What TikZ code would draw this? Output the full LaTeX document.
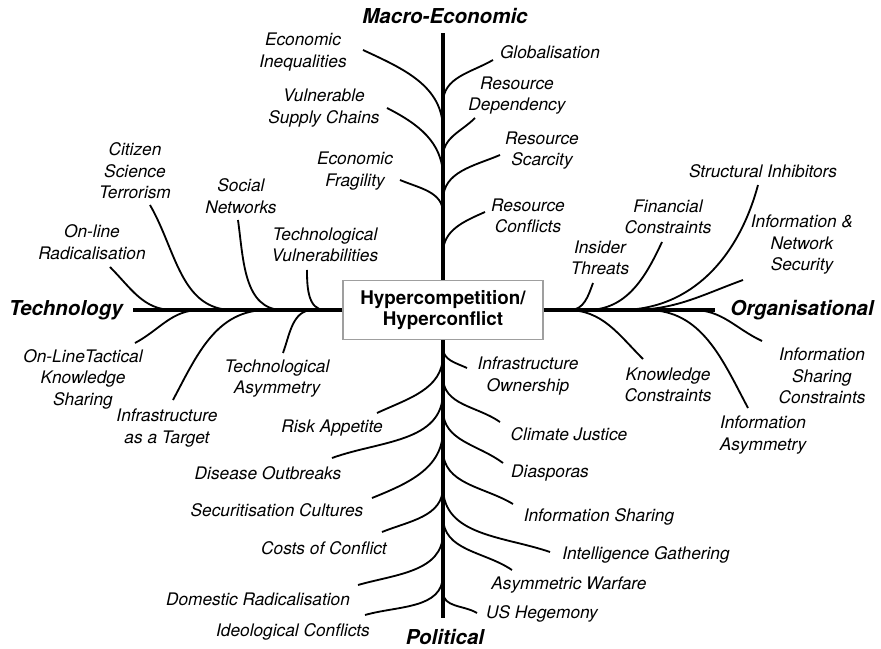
\documentclass[tikz,border=0pt]{standalone}
\usepackage{fontspec}
\setmainfont{TeX Gyre Heros}
\usepackage{tikz}
\tikzset{
  hub/.style={rectangle, draw=gray!75, fill=white, line width=0.9pt, minimum width=5cm, minimum height=1.475cm, align=center, font=\fontsize{13.4}{15.4}\selectfont\bfseries},
  cat/.style={font=\fontsize{14.6}{17}\selectfont\bfseries\itshape, inner sep=0pt},
  lbl/.style={font=\fontsize{12.3}{15.3}\selectfont\itshape, align=center, inner sep=0pt},
  spine/.style={draw=black, line width=3.2pt},
  twig/.style={draw=black, line width=1.3pt}
}

\begin{document}
\begin{tikzpicture}
  \useasboundingbox (-11.075,-8.475) rectangle (10.95,7.75);
  \node[hub] (hc) at (0,0) {Hypercompetition/\\Hyperconflict};
  \coordinate (mt) at (0,6.925); \coordinate (mb) at (0,-7.7);
  \coordinate (ml) at (-7.75,0); \coordinate (mr) at (6.8,0);
  \draw[spine] (hc.north)--(mt); \draw[spine] (hc.south)--(mb);
  \draw[spine] (hc.west)--(ml); \draw[spine] (hc.east)--(mr);
  \node[cat] (mac) at (0.05,7.35) {Macro-Economic};
  \node[cat] (pol) at (0.05,-8.175) {Political};
  \node[cat, anchor=east] (tec) at (-8.0,0) {Technology};
  \node[cat, anchor=west] (org) at (7.175,0) {Organisational};

  % macro-economic
  \node[lbl] (ineq) at (-3.5,6.45) {Economic\\Inequalities};
  \node[lbl] (supp) at (-2.975,5.05) {Vulnerable\\Supply Chains};
  \node[lbl] (frag) at (-2.2,3.475) {Economic\\Fragility};
  \node[lbl] (glob) at (2.675,6.45) {Globalisation};
  \node[lbl] (rdep) at (1.85,5.36) {Resource\\Dependency};
  \node[lbl] (rsca) at (2.475,3.99) {Resource\\Scarcity};
  \node[lbl] (rcon) at (2.125,2.35) {Resource\\Conflicts};
  \coordinate (ineq0) at (0,4.5); \coordinate (ineq1) at (-2.0,6.5);
  \coordinate (supp0) at (0,3.325); \coordinate (supp1) at (-1.4,5.05);
  \coordinate (frag0) at (0,2.425); \coordinate (frag1) at (-1.075,3.25);
  \coordinate (glob0) at (0,5.175); \coordinate (glob1) at (1.25,6.25);
  \coordinate (rdep0) at (0,3.825); \coordinate (rdep1) at (0.8,4.8);
  \coordinate (rsca0) at (0,2.75); \coordinate (rsca1) at (1.425,3.875);
  \coordinate (rcon0) at (0,1.425); \coordinate (rcon1) at (1.05,2.45);
  \draw[twig] (ineq0) to[out=90,in=-25] (ineq1);
  \draw[twig] (supp0) to[out=90,in=-27] (supp1);
  \draw[twig] (frag0) to[out=90,in=-23] (frag1);
  \draw[twig] (glob0) to[out=90,in=210] (glob1);
  \draw[twig] (rdep0) to[out=90,in=225] (rdep1);
  \draw[twig] (rsca0) to[out=90,in=203] (rsca1);
  \draw[twig] (rcon0) to[out=90,in=204] (rcon1);

  % technology
  \node[lbl] (orad) at (-8.775,1.7) {On-line\\Radicalisation};
  \node[lbl] (citz) at (-7.7,3.475) {Citizen\\Science\\Terrorism};
  \node[lbl] (socn) at (-5.05,2.85) {Social\\Networks};
  \node[lbl] (tvul) at (-2.95,1.625) {Technological\\Vulnerabilities};
  \node[lbl] (tact) at (-9.0,-1.725) {On-LineTactical\\Knowledge\\Sharing};
  \node[lbl] (itgt) at (-6.9,-2.95) {Infrastructure\\as a Target};
  \node[lbl] (tasy) at (-4.15,-1.72) {Technological\\Asymmetry};
  \coordinate (orad0) at (-6.75,0); \coordinate (orad1) at (-8.325,1.075);
  \coordinate (citz0) at (-5.25,0); \coordinate (citz1) at (-7.325,2.625);
  \coordinate (socn0) at (-4.0,0); \coordinate (socn1) at (-5.125,2.25);
  \coordinate (tvul0) at (-2.95,0); \coordinate (tvul1) at (-3.4,1.0);
  \coordinate (tact0) at (-6.075,0); \coordinate (tact1) at (-7.7,-0.825);
  \coordinate (itgt0) at (-4.4,0); \coordinate (itgt1) at (-6.75,-2.25);
  \coordinate (tasy0) at (-3.25,0); \coordinate (tasy1) at (-4.0,-1.075);
  \draw[twig] (orad0) to[out=180,in=-45] (orad1);
  \draw[twig] (citz0) to[out=180,in=-60] (citz1);
  \draw[twig] (socn0) to[out=180,in=-82] (socn1);
  \draw[twig] (tvul0) to[out=180,in=-90] (tvul1);
  \draw[twig] (tact0) to[out=180,in=28] (tact1);
  \draw[twig] (itgt0) to[out=180,in=62] (itgt1);
  \draw[twig] (tasy0) to[out=180,in=70] (tasy1);

  % organisational
  \node[lbl] (insd) at (3.925,1.3) {Insider\\Threats};
  \node[lbl] (finc) at (5.625,2.325) {Financial\\Constraints};
  \node[lbl] (stru) at (8.0,3.475) {Structural Inhibitors};
  \node[lbl] (inet) at (8.975,1.625) {Information \&\\Network\\Security};
  \node[lbl] (know) at (5.625,-1.875) {Knowledge\\Constraints};
  \node[lbl] (iasy) at (8.0,-3.125) {Information\\Asymmetry};
  \node[lbl] (ishc) at (9.475,-1.65) {Information\\Sharing\\Constraints};
  \coordinate (insd0) at (3.175,0); \coordinate (insd1) at (3.75,0.675);
  \coordinate (finc0) at (3.6,0); \coordinate (finc1) at (5.475,1.7);
  \coordinate (stru0) at (4.425,0); \coordinate (stru1) at (7.875,3.125);
  \coordinate (inet0) at (4.675,0); \coordinate (inet1) at (7.5,0.75);
  \coordinate (know0) at (3.1,0); \coordinate (know1) at (5.0,-1.225);
  \coordinate (iasy0) at (5.1,0); \coordinate (iasy1) at (7.625,-2.45);
  \coordinate (ishc0) at (6.25,0); \coordinate (ishc1) at (7.975,-0.775);
  \draw[twig] (insd0) to[out=0,in=250] (insd1);
  \draw[twig] (finc0) to[out=0,in=245] (finc1);
  \draw[twig] (stru0) to[out=0,in=255] (stru1);
  \draw[twig] (inet0) to[out=0,in=200] (inet1);
  \draw[twig] (know0) to[out=0,in=135] (know1);
  \draw[twig] (iasy0) to[out=0,in=118] (iasy1);
  \draw[twig] (ishc0) to[out=0,in=155] (ishc1);

  % political
  \node[lbl] (risk) at (-2.775,-2.95) {Risk Appetite};
  \node[lbl] (dise) at (-4.375,-4.075) {Disease Outbreaks};
  \node[lbl] (secu) at (-4.15,-5.0) {Securitisation Cultures};
  \node[lbl] (cost) at (-2.975,-5.95) {Costs of Conflict};
  \node[lbl] (drad) at (-4.625,-7.225) {Domestic Radicalisation};
  \node[lbl] (ideo) at (-3.75,-8.05) {Ideological Conflicts};
  \node[lbl] (iown) at (2.125,-1.65) {Infrastructure\\Ownership};
  \node[lbl] (clim) at (3.15,-3.1) {Climate Justice};
  \node[lbl] (dias) at (2.675,-4.075) {Diasporas};
  \node[lbl] (ishr) at (3.9,-5.175) {Information Sharing};
  \node[lbl] (intl) at (5.075,-6.125) {Intelligence Gathering};
  \node[lbl] (awar) at (3.15,-6.875) {Asymmetric Warfare};
  \node[lbl] (ushg) at (2.475,-7.6) {US Hegemony};
  \coordinate (risk0) at (0,-1.125); \coordinate (risk1) at (-1.65,-2.575);
  \coordinate (dise0) at (0,-2.05); \coordinate (dise1) at (-2.775,-3.7);
  \coordinate (secu0) at (0,-3.0); \coordinate (secu1) at (-1.775,-4.7);
  \coordinate (cost0) at (0,-4.425); \coordinate (cost1) at (-1.525,-5.55);
  \coordinate (drad0) at (0,-5.575); \coordinate (drad1) at (-2.125,-6.875);
  \coordinate (ideo0) at (0,-6.625); \coordinate (ideo1) at (-1.95,-7.625);
  \coordinate (iown0) at (0,-0.95); \coordinate (iown1) at (0.6,-1.45);
  \coordinate (clim0) at (0,-1.675); \coordinate (clim1) at (1.425,-2.8);
  \coordinate (dias0) at (0,-2.5); \coordinate (dias1) at (1.5,-3.825);
  \coordinate (ishr0) at (0,-3.5); \coordinate (ishr1) at (1.75,-4.85);
  \coordinate (intl0) at (0,-4.425); \coordinate (intl1) at (2.675,-6.05);
  \coordinate (awar0) at (0,-5.175); \coordinate (awar1) at (1.725,-6.5);
  \coordinate (ushg0) at (0,-7.05); \coordinate (ushg1) at (0.85,-7.575);
  \draw[twig] (risk0) to[out=-90,in=25] (risk1);
  \draw[twig] (dise0) to[out=-90,in=20] (dise1);
  \draw[twig] (secu0) to[out=-90,in=22] (secu1);
  \draw[twig] (cost0) to[out=-90,in=22] (cost1);
  \draw[twig] (drad0) to[out=-90,in=16] (drad1);
  \draw[twig] (ideo0) to[out=-90,in=16] (ideo1);
  \draw[twig] (iown0) to[out=-90,in=155] (iown1);
  \draw[twig] (clim0) to[out=-90,in=145] (clim1);
  \draw[twig] (dias0) to[out=-90,in=143] (dias1);
  \draw[twig] (ishr0) to[out=-90,in=149] (ishr1);
  \draw[twig] (intl0) to[out=-90,in=161] (intl1);
  \draw[twig] (awar0) to[out=-90,in=146] (awar1);
  \draw[twig] (ushg0) to[out=-90,in=149] (ushg1);
\end{tikzpicture}
\end{document}
